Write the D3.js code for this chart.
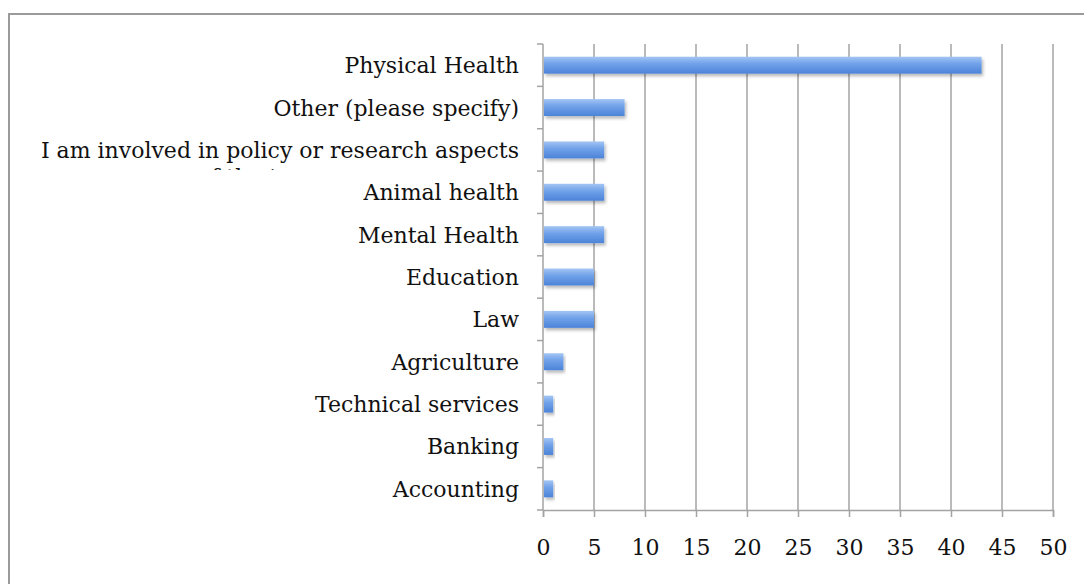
<!DOCTYPE html>
<html lang="en">
<head>
    <meta charset="UTF-8">
    <title>Sectors</title>
    <script src="https://d3js.org/d3.v7.min.js"></script>
    <style>
        body { margin: 0; background: #fff; }
        svg { display: block; }
    </style>
</head>
<body>
    <div id="output"></div>

    <script>
        // Categories, top to bottom
        var categories = [
            "Physical Health",
            "Other (please specify)",
            "I am involved in policy or research aspects of the issue",
            "Animal health",
            "Mental Health",
            "Education",
            "Law",
            "Agriculture",
            "Technical services",
            "Banking",
            "Accounting"
        ];
        var counts = [43, 8, 6, 6, 6, 5, 5, 2, 1, 1, 1];
        var tickValues = [0, 5, 10, 15, 20, 25, 30, 35, 40, 45, 50];

        var width = 1084, height = 584;
        var margin = { left: 543, right: 31, top: 44, bottom: 74 };
        var fontFamily = "'DejaVu Serif', 'Liberation Serif', serif";

        var svg = d3.select("#output").append("svg")
            .attr("width", width)
            .attr("height", height);

        var defs = svg.append("defs");

        // Bar gradient (light top, darker bottom)
        var grad = defs.append("linearGradient")
            .attr("id", "barGrad")
            .attr("x1", 0).attr("y1", 0).attr("x2", 0).attr("y2", 1);
        grad.append("stop").attr("offset", "0%").attr("stop-color", "#a4c5f3");
        grad.append("stop").attr("offset", "40%").attr("stop-color", "#72a3ea");
        grad.append("stop").attr("offset", "100%").attr("stop-color", "#4c83d8");

        // Soft shadow under bars
        var shadow = defs.append("filter").attr("id", "shadow")
            .attr("x", "-5%").attr("y", "-30%").attr("width", "115%").attr("height", "190%");
        shadow.append("feDropShadow")
            .attr("dx", 1.5).attr("dy", 2.5).attr("stdDeviation", 1.8)
            .attr("flood-color", "#000").attr("flood-opacity", 0.28);

        // Outer frame
        svg.append("rect")
            .attr("x", 9).attr("y", 14)
            .attr("width", width + 20).attr("height", height + 20)
            .attr("fill", "#fff")
            .attr("stroke", "#9a9a9a")
            .attr("stroke-width", 2);

        var x = d3.scaleLinear()
            .domain([0, 50])
            .range([margin.left, width - margin.right]);

        var y = d3.scaleBand()
            .domain(categories)
            .range([margin.top, height - margin.bottom])
            .paddingInner(0.6)
            .paddingOuter(0.3);

        var bandStep = y.step();
        var yTop = margin.top, yBottom = height - margin.bottom;

        // Vertical grid lines
        svg.append("g").selectAll("line")
            .data(tickValues.slice(1))
            .enter().append("line")
            .attr("x1", function(d) { return x(d); })
            .attr("x2", function(d) { return x(d); })
            .attr("y1", yTop)
            .attr("y2", yBottom)
            .attr("stroke", "#a3a3a3")
            .attr("stroke-width", 1.5);

        // Bottom axis
        var xAxis = svg.append("g")
            .attr("transform", "translate(0," + yBottom + ")")
            .call(d3.axisBottom(x).tickValues(tickValues).tickSize(7).tickPadding(22));
        xAxis.select(".domain").attr("stroke", "#a3a3a3").attr("stroke-width", 1.5);
        xAxis.selectAll(".tick line").attr("stroke", "#a3a3a3").attr("stroke-width", 1.5);
        xAxis.selectAll(".tick text")
            .attr("fill", "#111")
            .style("font-family", fontFamily)
            .style("font-size", "22px");

        // Left axis line with ticks at band boundaries
        var leftAxis = svg.append("g");
        leftAxis.append("line")
            .attr("x1", x(0)).attr("x2", x(0))
            .attr("y1", yTop).attr("y2", yBottom)
            .attr("stroke", "#a3a3a3").attr("stroke-width", 1.5);
        var bounds = d3.range(categories.length + 1).map(function(i) { return yTop + i * bandStep; });
        leftAxis.selectAll(".ltick")
            .data(bounds)
            .enter().append("line")
            .attr("class", "ltick")
            .attr("x1", x(0) - 6).attr("x2", x(0))
            .attr("y1", function(d) { return d; })
            .attr("y2", function(d) { return d; })
            .attr("stroke", "#a3a3a3").attr("stroke-width", 1.5);

        // Bars
        svg.append("g").selectAll("rect")
            .data(categories)
            .enter().append("rect")
            .attr("x", x(0) + 1)
            .attr("y", function(d) { return y(d); })
            .attr("width", function(d, i) { return x(counts[i]) - x(0) - 1; })
            .attr("height", y.bandwidth())
            .attr("fill", "url(#barGrad)")
            .attr("filter", "url(#shadow)");

        // Category labels (clipped to each band, like the original)
        var labels = svg.append("g")
            .style("font-family", fontFamily)
            .style("font-size", "22px")
            .attr("fill", "#111");

        categories.forEach(function(name, i) {
            var cy = y(name) + y.bandwidth() / 2;
            var clipId = "clip" + i;
            defs.append("clipPath").attr("id", clipId)
                .append("rect")
                .attr("x", 0).attr("width", x(0))
                .attr("y", cy - 24)
                .attr("height", 44);
            var t = labels.append("text")
                .attr("clip-path", "url(#" + clipId + ")");
            if (name.length > 30) {
                t.append("tspan").attr("x", x(0) - 24).attr("y", cy + 8)
                    .attr("text-anchor", "end")
                    .text("I am involved in policy or research aspects");
                t.append("tspan").attr("x", 262).attr("y", cy + 35)
                    .attr("text-anchor", "middle")
                    .text("of the issue");
            } else {
                t.append("tspan").attr("x", x(0) - 24).attr("y", cy + 8)
                    .attr("text-anchor", "end")
                    .text(name);
            }
        });
    </script>
</body>
</html>
